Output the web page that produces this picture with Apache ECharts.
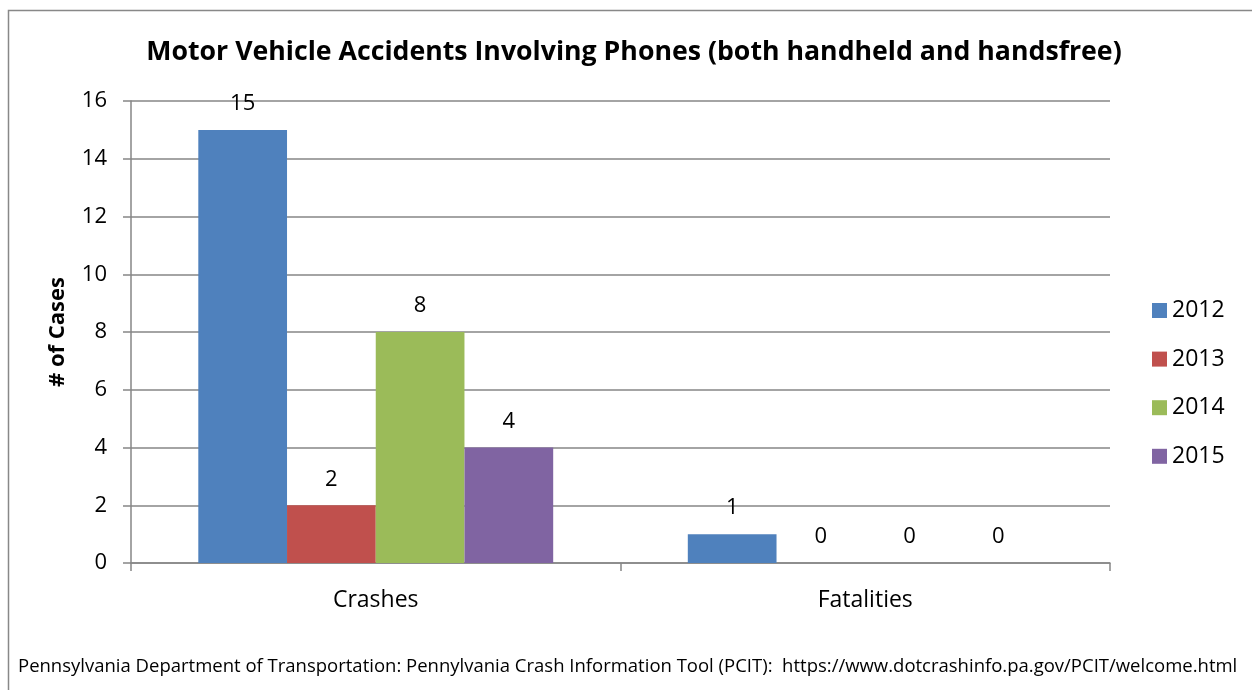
<!DOCTYPE html>
<html><head><meta charset="utf-8">
<script src="https://cdn.jsdelivr.net/npm/echarts@6/dist/echarts.min.js"></script>
<style>html,body{margin:0;padding:0;background:#fff}#c{width:1252px;height:690px}</style>
</head><body><div id="c"></div>
<script>
var categories = ['Crashes', 'Fatalities'];
var years = ['2012', '2013', '2014', '2015'];
var v2012 = [15, 1];
var v2013 = [2, 0];
var v2014 = [8, 0];
var v2015 = [4, 0];
var colors = ['#4F81BD', '#C0504D', '#9BBB59', '#8064A2'];
var FONT = '"Open Sans", sans-serif';
var chart = echarts.init(document.getElementById('c'));
var vals = [v2012, v2013, v2014, v2015];
var series = years.map(function (y, i) {
  return {
    name: y, type: 'bar', data: vals[i], barGap: '0%', barCategoryGap: '27.5%',
    itemStyle: { color: colors[i] },
    label: { show: true, position: 'top', distance: 15, color: '#000', fontSize: 22, fontFamily: FONT }
  };
});
chart.setOption({
  animation: false,
  textStyle: { fontFamily: FONT },
  title: {
    text: 'Motor Vehicle Accidents Involving Phones (both handheld and handsfree)',
    left: 629, top: 34, textAlign: 'center',
    textStyle: { fontSize: 26.7, fontWeight: 'bold', color: '#000', fontFamily: FONT }
  },
  legend: {
    orient: 'vertical', left: 1152, top: 299, padding: 0, itemGap: 25.6, itemWidth: 15, itemHeight: 15,
    icon: 'rect', textStyle: { fontSize: 23, lineHeight: 23, color: '#000', fontFamily: FONT }, data: years
  },
  grid: { left: 131, right: 142, top: 101, bottom: 127, containLabel: false },
  xAxis: {
    type: 'category', data: categories,
    axisLine: { lineStyle: { color: '#868686', width: 1.5 } },
    axisTick: { show: true, length: 8, lineStyle: { color: '#868686', width: 1.5 } },
    axisLabel: { color: '#000', fontSize: 23, margin: 26, fontFamily: FONT }
  },
  yAxis: {
    type: 'value', min: 0, max: 16, interval: 2,
    name: '# of Cases', nameLocation: 'middle', nameGap: 62, nameRotate: 90,
    nameTextStyle: { fontSize: 22, fontWeight: 'bold', color: '#000', fontFamily: FONT },
    axisLine: { show: true, lineStyle: { color: '#868686', width: 1.5 } },
    axisTick: { show: true, length: 8, lineStyle: { color: '#868686', width: 1.5 } },
    axisLabel: { color: '#000', fontSize: 22, margin: 24, fontFamily: FONT },
    splitLine: { lineStyle: { color: '#868686', width: 1.5 } }
  },
  graphic: [
    { type: 'rect', left: 6, top: 8, shape: { width: 1270, height: 700 }, style: { fill: 'none', stroke: '#888', lineWidth: 1.5 }, silent: true, z: -1 },
    { type: 'text', left: 18, top: 657, style: { text: 'Pennsylvania Department of Transportation: Pennylvania Crash Information Tool (PCIT):  https://www.dotcrashinfo.pa.gov/PCIT/welcome.html', font: '18.5px ' + FONT, fill: '#000' } }
  ],
  series: series
});
</script></body></html>
